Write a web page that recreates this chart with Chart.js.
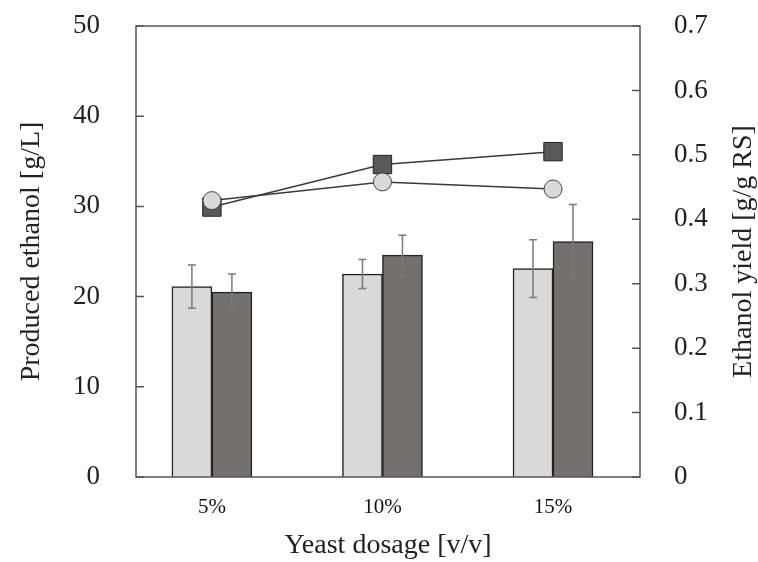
<!DOCTYPE html>
<html><head><meta charset="utf-8">
<script src="https://cdn.jsdelivr.net/npm/chart.js@4/dist/chart.umd.min.js"></script>
<style>html,body{margin:0;padding:0;background:#fff}#wrap{width:758px;height:562px}</style>
</head><body><div id="wrap"><canvas id="c" width="758" height="562"></canvas></div>
<script>
const categories = ['5%', '10%', '15%'];
const categoryPositions = [0, 1, 2];
const ethanolLight = [21.1, 22.5, 23.1];
const ethanolLightErr = [2.4, 1.6, 3.2];
const ethanolDark = [20.5, 24.6, 26.1];
const ethanolDarkErr = [2.0, 2.2, 4.1];
const yieldSquares = [0.419, 0.485, 0.505];
const yieldCircles = [0.429, 0.458, 0.447];
const leftTicks = [0, 10, 20, 30, 40, 50];
const rightTicks = [0, 0.1, 0.2, 0.3, 0.4, 0.5, 0.6, 0.7];
const rightTitle = 'Ethanol yield [g/g RS]';

const SERIF = '"Liberation Serif", "Times New Roman", serif';
const pts = (vals) => vals.map((v, i) => ({x: categoryPositions[i], y: v}));
const errMap = {2: ethanolLightErr, 3: ethanolDarkErr};

const errorBars = {
  id: 'errorBars',
  afterDatasetDraw(chart, args) {
    const errs = errMap[args.index];
    if (!errs) return;
    const ctx = chart.ctx, y = chart.scales.y;
    ctx.save();
    ctx.strokeStyle = '#7a7a7a';
    ctx.lineWidth = 1.5;
    args.meta.data.forEach((bar, i) => {
      const v = args.meta._parsed[i].y;
      const top = y.getPixelForValue(v + errs[i]);
      const bot = y.getPixelForValue(v - errs[i]);
      const x = bar.x;
      ctx.beginPath();
      ctx.moveTo(x, top); ctx.lineTo(x, bot);
      ctx.moveTo(x - 4, top); ctx.lineTo(x + 4, top);
      ctx.moveTo(x - 4, bot); ctx.lineTo(x + 4, bot);
      ctx.stroke();
    });
    ctx.restore();
  }
};

const frame = {
  id: 'frame',
  afterDraw(chart) {
    const {ctx, chartArea: a} = chart;
    ctx.save();
    ctx.strokeStyle = '#555';
    ctx.lineWidth = 1.5;
    ctx.strokeRect(a.left, a.top, a.right - a.left, a.bottom - a.top);
    ctx.beginPath();
    leftTicks.forEach(t => {
      const py = chart.scales.y.getPixelForValue(t);
      ctx.moveTo(a.left, py); ctx.lineTo(a.left + 8, py);
    });
    rightTicks.forEach(t => {
      const py = chart.scales.y1.getPixelForValue(t);
      ctx.moveTo(a.right, py); ctx.lineTo(a.right - 8, py);
    });
    ctx.stroke();
    // right axis title, reading bottom-to-top
    ctx.fillStyle = '#222';
    ctx.font = '28px ' + SERIF;
    ctx.textAlign = 'center';
    ctx.textBaseline = 'middle';
    ctx.translate(744, (a.top + a.bottom) / 2);
    ctx.rotate(-Math.PI / 2);
    ctx.fillText(rightTitle, 0, 0);
    ctx.restore();
  }
};

new Chart(document.getElementById('c'), {
  data: {
    datasets: [
      {type: 'line', yAxisID: 'y1', data: pts(yieldCircles), borderColor: '#3a3a3a', borderWidth: 1.5,
       pointStyle: 'circle', pointRadius: 9, pointBackgroundColor: '#d9d9d9', pointBorderColor: '#444', pointBorderWidth: 1},
      {type: 'line', yAxisID: 'y1', data: pts(yieldSquares), borderColor: '#3a3a3a', borderWidth: 1.5,
       pointStyle: 'rect', pointRadius: 13, pointBackgroundColor: '#595959', pointBorderColor: '#222', pointBorderWidth: 1},
      {type: 'bar', yAxisID: 'y', data: pts(ethanolLight), backgroundColor: '#d9d9d9', borderColor: '#222', borderWidth: 1.5, barThickness: 40},
      {type: 'bar', yAxisID: 'y', data: pts(ethanolDark), backgroundColor: '#757070', borderColor: '#222', borderWidth: 1.5, barThickness: 40}
    ]
  },
  options: {
    responsive: false,
    animation: false,
    devicePixelRatio: 1,
    layout: {padding: {top: 26, left: 0, right: 0, bottom: 0}},
    plugins: {legend: {display: false}, tooltip: {enabled: false}},
    scales: {
      x: {
        type: 'linear', position: 'bottom', min: -0.445, max: 2.51, offset: false,
        afterBuildTicks: s => { s.ticks = categoryPositions.map(v => ({value: v})); },
        afterFit: s => { s.height = 85; s.paddingLeft = 0; s.paddingRight = 0; },
        grid: {display: false, drawTicks: false, offset: false}, border: {display: false},
        ticks: {padding: 18, color: '#111', font: {family: SERIF, size: 21},
                callback: (v) => categories[categoryPositions.indexOf(v)] ?? ''},
        title: {display: true, text: 'Yeast dosage [v/v]', color: '#222', font: {family: SERIF, size: 28}, padding: {top: 0, bottom: 0}}
      },
      y: {
        position: 'left', min: 0, max: 50,
        afterBuildTicks: s => { s.ticks = leftTicks.map(v => ({value: v})); },
        afterFit: s => { s.width = 136; s.paddingTop = 0; s.paddingBottom = 0; },
        grid: {display: false, drawTicks: false}, border: {display: false},
        ticks: {padding: 36, color: '#222', font: {family: SERIF, size: 27}},
        title: {display: true, text: 'Produced ethanol [g/L]', color: '#222', font: {family: SERIF, size: 28}, padding: {top: 15, bottom: 0}}
      },
      y1: {
        position: 'right', min: 0, max: 0.7,
        afterBuildTicks: s => { s.ticks = rightTicks.map(v => ({value: v})); },
        afterFit: s => { s.width = 118; s.paddingTop = 0; s.paddingBottom = 0; },
        grid: {display: false, drawTicks: false}, border: {display: false},
        ticks: {padding: 34, color: '#222', font: {family: SERIF, size: 27},
                callback: v => v === 0 ? '0' : Number(v).toFixed(1)},
        title: {display: false}
      }
    }
  },
  plugins: [errorBars, frame]
});
</script></body></html>
